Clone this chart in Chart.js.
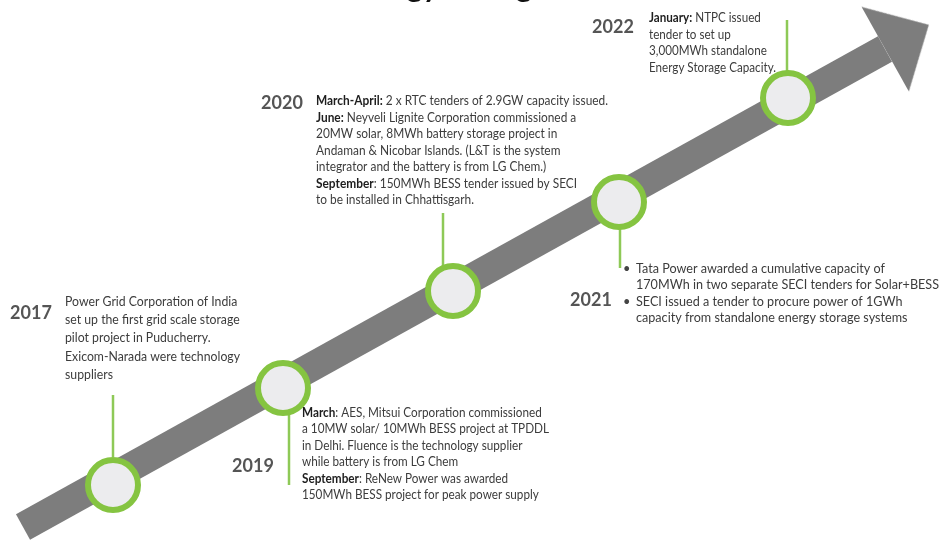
<!DOCTYPE html>
<html>
<head>
<meta charset="utf-8">
<script src="https://cdn.jsdelivr.net/npm/chart.js@4"></script>
<style>
  html, body { margin: 0; padding: 0; background: #ffffff; }
  canvas { display: block; }
</style>
</head>
<body>
<canvas id="timeline" width="940" height="541"></canvas>
<script>
// milestones along the arrow
const years = ['2017', '2019', '2020', '2021', '2022'];
const markerX = [113, 283, 453, 619, 788];
const markerY = [485, 388, 291, 202, 98];

// green stems from each milestone to its note
const stemX = [113, 289, 443, 620, 787];
const stemTop = [395, 413, 213, 228, 20];
const stemBottom = [457, 485, 266, 268, 71];

// arrow shaft (start / end) and head
const shaftX = [23, 885];
const shaftY = [527, 49];
const headX = [907];
const headY = [37];

// notes (**text** = bold)
const notes2017 = [
    'Power Grid Corporation of India',
    'set up the first grid scale storage',
    'pilot project in Puducherry.',
    'Exicom-Narada were technology',
    'suppliers'
];
const notes2019 = [
    '**March**: AES, Mitsui Corporation commissioned',
    'a 10MW solar/ 10MWh BESS project at TPDDL',
    'in Delhi. Fluence is the technology supplier',
    'while battery is from LG Chem',
    '**September**: ReNew Power was awarded',
    '150MWh BESS project for peak power supply'
];
const notes2020 = [
    '**March-April:** 2 x RTC tenders of 2.9GW capacity issued.',
    '**June:** Neyveli Lignite Corporation commissioned a',
    '20MW solar, 8MWh battery storage project in',
    'Andaman & Nicobar Islands. (L&T is the system',
    'integrator and the battery is from LG Chem.)',
    '**September**: 150MWh BESS tender issued by SECI',
    'to be installed in Chhattisgarh.'
];
const notes2021 = [
    '•Tata Power awarded a cumulative capacity of',
    '170MWh in two separate SECI tenders for Solar+BESS',
    '•SECI issued a tender to procure power of 1GWh',
    'capacity from standalone energy storage systems'
];
const notes2022 = [
    '**January:** NTPC issued',
    'tender to set up',
    '3,000MWh standalone',
    'Energy Storage Capacity.'
];
const notes = [notes2017, notes2019, notes2020, notes2021, notes2022];

// layout of the text blocks: x, first baseline, line height, font size, width of widest line
const blockLayout = [
    { x: 65, y: 306, lh: 18.2, size: 13.5, width: 175 },
    { x: 302, y: 417, lh: 16.4, size: 12.8, width: 247 },
    { x: 316, y: 105, lh: 16.5, size: 12.8, width: 292 },
    { x: 636, y: 273, lh: 16.3, size: 12.8, width: 303 },
    { x: 649, y: 22, lh: 16.7, size: 12.8, width: 127 }
];
const yearLayout = [
    { x: 31, y: 313 }, { x: 253, y: 466 }, { x: 282, y: 103 },
    { x: 591, y: 300 }, { x: 613, y: 27 }
];

const FONT = 'Lato, "Open Sans", sans-serif';
const GREEN = '#85c441';
const GREY = '#7d7d7d';

// arrow head drawn once into a small canvas, used as a point style
const head = document.createElement('canvas');
head.width = 50;
head.height = 97;
const hctx = head.getContext('2d');
hctx.fillStyle = GREY;
hctx.beginPath();
hctx.moveTo(0, 0);
hctx.lineTo(50, 48.5);
hctx.lineTo(0, 97);
hctx.closePath();
hctx.fill();

function splitBold(line) {
    return line.split('**').map((t, i) => ({ text: t, bold: i % 2 === 1 })).filter(s => s.text);
}

function lineWidth(ctx, segs, size) {
    let w = 0;
    segs.forEach(s => {
        ctx.font = (s.bold ? 'bold ' : '') + size + 'px ' + FONT;
        w += ctx.measureText(s.text).width;
    });
    return w;
}

const textPlugin = {
    id: 'timelineText',
    afterDraw(chart) {
        const ctx = chart.ctx;
        ctx.save();
        ctx.textBaseline = 'alphabetic';

        // title, mostly above the visible area
        ctx.font = 'bold 30px ' + FONT;
        ctx.fillStyle = '#111';
        ctx.textAlign = 'left';
        const pre = ctx.measureText('Ener').width;
        ctx.fillText('Energy Storage', 407 - pre, -3);

        // years
        ctx.font = 'bold 18px ' + FONT;
        ctx.fillStyle = '#555555';
        ctx.textAlign = 'center';
        ctx.textBaseline = 'middle';
        years.forEach((yr, i) => ctx.fillText(yr, yearLayout[i].x, yearLayout[i].y));

        // notes
        ctx.textAlign = 'left';
        ctx.textBaseline = 'alphabetic';
        notes.forEach((lines, i) => {
            const b = blockLayout[i];
            const parsed = lines.map(l => splitBold(l.replace('•', '')));
            const widest = Math.max(...parsed.map(p => lineWidth(ctx, p, b.size)));
            const sx = b.width / widest;
            parsed.forEach((segs, j) => {
                const y = b.y + j * b.lh;
                if (lines[j].startsWith('•')) {
                    ctx.font = b.size + 'px ' + FONT;
                    ctx.fillStyle = '#444';
                    ctx.fillText('•', b.x - 13, y);
                }
                let x = b.x;
                segs.forEach(s => {
                    ctx.font = (s.bold ? 'bold ' : '') + b.size + 'px ' + FONT;
                    ctx.fillStyle = s.bold ? '#1e1e1e' : '#3c3c3c';
                    const w = ctx.measureText(s.text).width;
                    ctx.save();
                    ctx.translate(x, y);
                    ctx.scale(sx, 1);
                    ctx.fillText(s.text, 0, 0);
                    ctx.restore();
                    x += w * sx;
                });
            });
        });
        ctx.restore();
    }
};

const stemSets = stemX.map((x, i) => ({
    type: 'line',
    data: [{ x: x, y: stemTop[i] }, { x: x, y: stemBottom[i] }],
    borderColor: '#8ec957',
    borderWidth: 2.5,
    pointRadius: 0,
    order: 1
}));

const ctx = document.getElementById('timeline').getContext('2d');
new Chart(ctx, {
    type: 'scatter',
    data: {
        datasets: [
            {
                label: 'milestones',
                data: markerX.map((x, i) => ({ x: x, y: markerY[i] })),
                pointRadius: 25,
                pointBorderWidth: 6,
                pointBackgroundColor: '#ececee',
                pointBorderColor: GREEN,
                order: 0
            },
            ...stemSets,
            {
                type: 'line',
                data: shaftX.map((x, i) => ({ x: x, y: shaftY[i] })),
                borderColor: GREY,
                borderWidth: 29,
                borderCapStyle: 'butt',
                pointRadius: 0,
                order: 3
            },
            {
                data: headX.map((x, i) => ({ x: x, y: headY[i] })),
                pointStyle: head,
                rotation: -29.2,
                order: 2
            }
        ]
    },
    options: {
        responsive: false,
        animation: false,
        layout: { padding: 0, autoPadding: false },
        plugins: {
            legend: { display: false },
            tooltip: { enabled: false }
        },
        scales: {
            x: { type: 'linear', min: 0, max: 940, display: false },
            y: { type: 'linear', min: 0, max: 541, reverse: true, display: false }
        }
    },
    plugins: [textPlugin]
});
</script>
</body>
</html>
